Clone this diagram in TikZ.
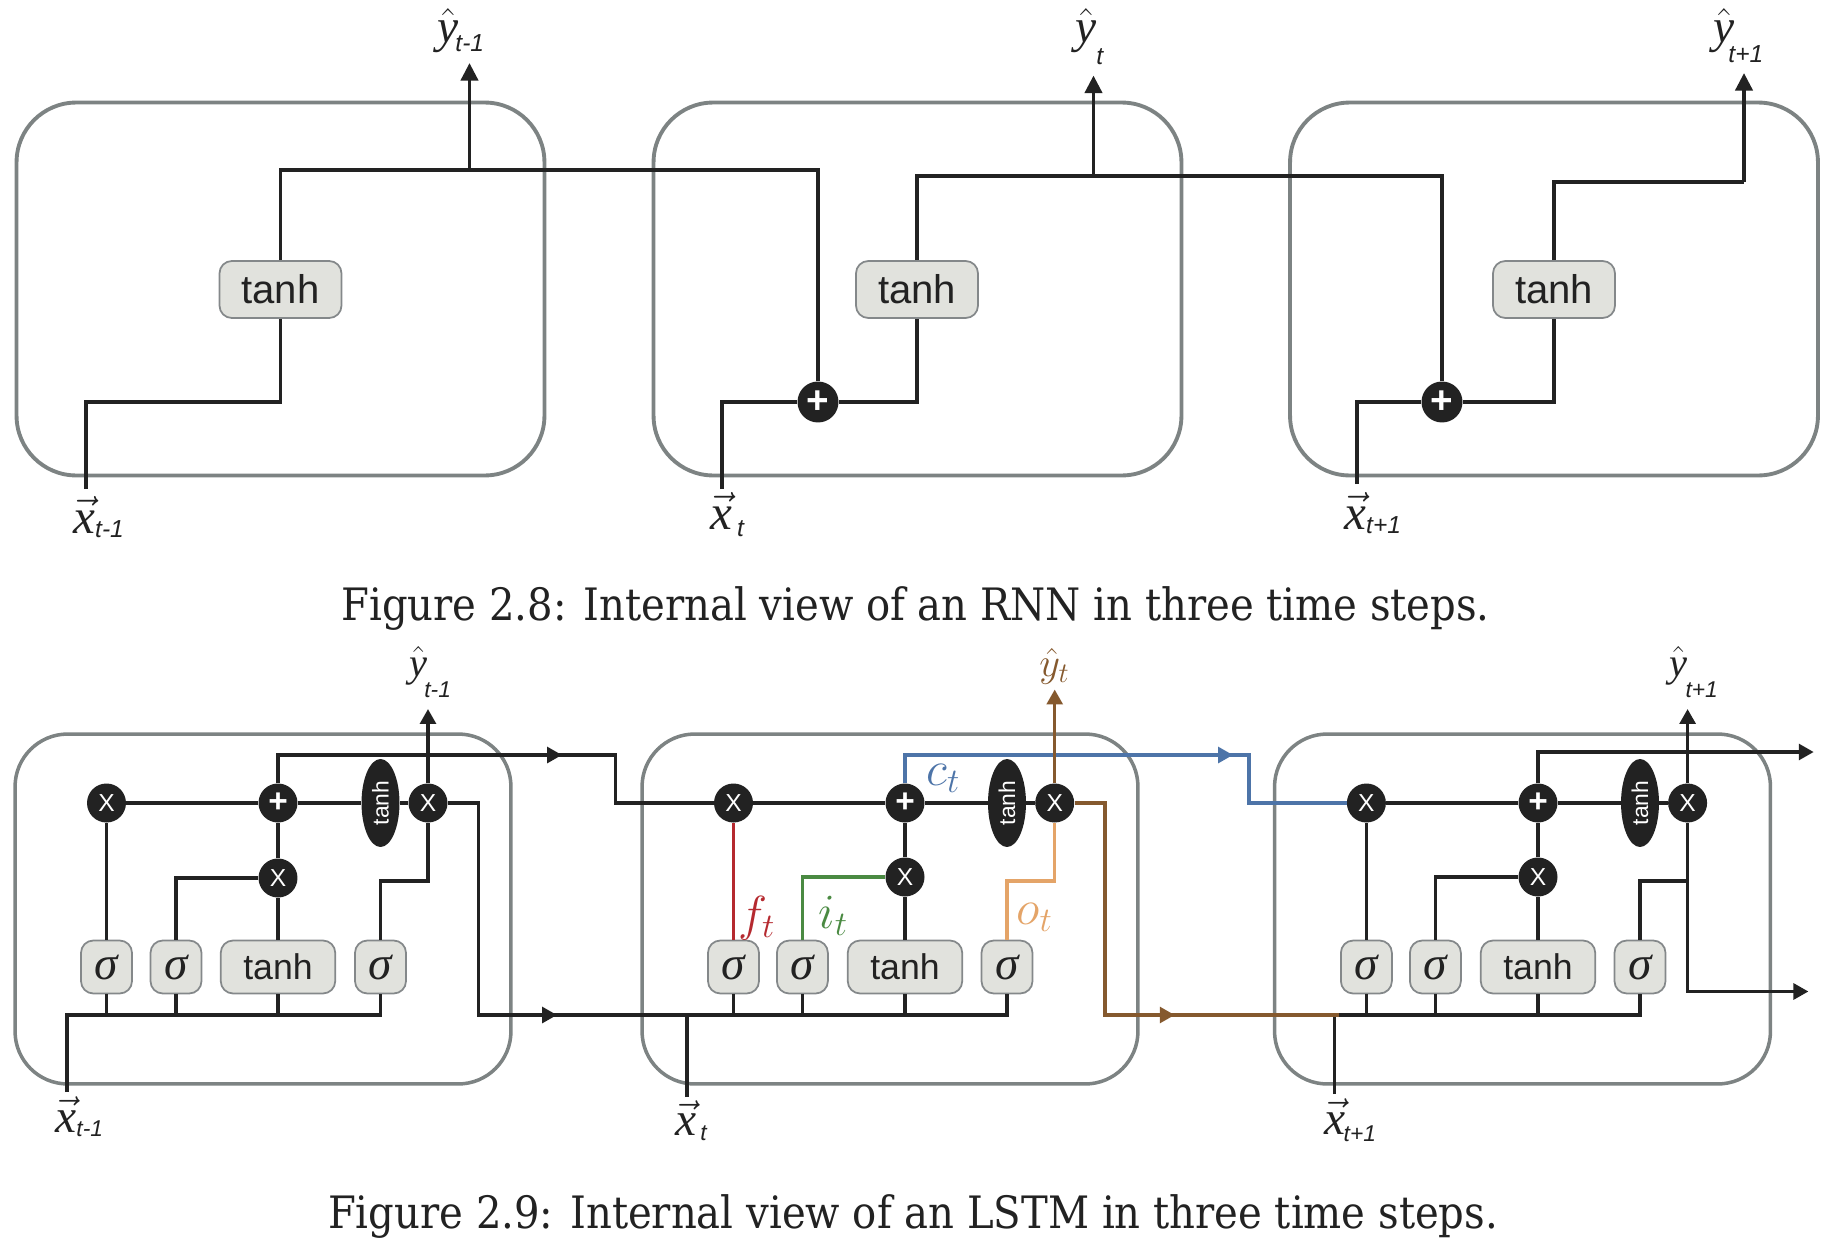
\documentclass[tikz,border=0pt]{standalone}
\usepackage{fix-cm}
\usepackage{fontspec}
\usetikzlibrary{arrows.meta,shapes.geometric}
\setmainfont{Liberation Sans}
\newfontfamily\capfont{DejaVu Serif Condensed}
\newfontfamily\tmsfont[NFSSFamily=tms]{Liberation Serif}
\DeclareMathAlphabet{\mathtms}{TU}{tms}{m}{it}
\definecolor{inkc}{HTML}{222222}
\definecolor{framec}{HTML}{7D8383}
\definecolor{gatec}{HTML}{E1E2DD}
\definecolor{gateb}{HTML}{84888A}
\definecolor{brownc}{HTML}{85592E}
\definecolor{bluec}{HTML}{4D74A8}
\definecolor{redc}{HTML}{B5292F}
\definecolor{greenc}{HTML}{4A8A42}
\definecolor{orangec}{HTML}{E4A468}
% #1 kern, #2 raise, #3 subscript
\newcommand{\ybig}[3]{{\fontsize{27}{30}\selectfont$\hat{\mathtms{y}}$}\kern#1\raisebox{#2}{\fontsize{14}{16}\selectfont\itshape #3}}
\newcommand{\xbig}[3]{{\fontsize{28}{30}\selectfont$\vec{\mathtms{x}}$}\kern#1\raisebox{#2}{\fontsize{14}{16}\selectfont\itshape #3}}
\newcommand{\ysmall}[3]{{\fontsize{23}{26}\selectfont$\hat{\mathtms{y}}$}\kern#1\raisebox{#2}{\fontsize{13}{15}\selectfont\itshape #3}}
\newcommand{\xsmall}[3]{{\fontsize{27}{28}\selectfont$\vec{\mathtms{x}}$}\kern#1\raisebox{#2}{\fontsize{13}{15}\selectfont\itshape #3}}
\newcommand{\sgm}{{\tmsfont\itshape σ}}
\tikzset{
  wire/.style={line width=2.2pt,draw=inkc},
  thin wire/.style={line width=1.95pt,draw=inkc},
  tipbig/.style={-{Triangle[length=10pt,width=9.7pt]}},
  tipsmall/.style={-{Triangle[length=8.5pt,width=9pt]}},
  rejoin/.style={shorten <=-6pt},
  cellbig/.style={draw=framec,line width=2.2pt,rounded corners=34pt,minimum width=10.56cm,minimum height=7.46cm,inner sep=0},
  cellsmall/.style={draw=framec,line width=2pt,rounded corners=30pt,minimum width=9.92cm,minimum height=7cm,inner sep=0},
  tanhbig/.style={draw=gateb,fill=gatec,line width=1pt,rounded corners=7pt,minimum width=2.44cm,minimum height=1.14cm,inner sep=0,text=inkc,font=\fontsize{22.8}{24}\selectfont},
  tanhsmall/.style={draw=gateb,fill=gatec,line width=1pt,rounded corners=7pt,minimum width=2.29cm,minimum height=1.06cm,inner sep=0,text=inkc,font=\fontsize{20.3}{22}\selectfont},
  sigbox/.style={draw=gateb,fill=gatec,line width=1pt,rounded corners=7pt,minimum width=1.02cm,minimum height=1.06cm,inner sep=0,text=inkc,font=\fontsize{27}{29}\selectfont},
  plusbig/.style={circle,fill=inkc,minimum size=.82cm,inner sep=0,text=white,font=\fontsize{22}{24}\selectfont\bfseries},
  plussmall/.style={circle,fill=inkc,minimum size=.78cm,inner sep=0,text=white,font=\fontsize{19}{21}\selectfont\bfseries},
  timesgate/.style={circle,fill=inkc,minimum size=.78cm,inner sep=0,text=white,font=\fontsize{14}{16}\selectfont},
  tanhoval/.style={ellipse,fill=inkc,rotate=90,minimum width=1.76cm,minimum height=.76cm,inner sep=0,text=white,font=\fontsize{13}{15}\selectfont},
  lbl/.style={anchor=base west,inner sep=0,text=inkc},
  caption/.style={anchor=base,inner sep=0,text=inkc,font=\capfont\fontsize{25.4}{28}\selectfont},
}
\begin{document}
\begin{tikzpicture}[x=0.02cm,y=-0.02cm]
      \useasboundingbox (0,0) rectangle (1826,1247);
      \node [cellbig] (r1) at (280.5,289) {};
      \node [cellbig] (r2) at (917.5,289) {};
      \node [cellbig] (r3) at (1554,289) {};
      \node [tanhbig] (k1) at (280.5,289.5) {tanh};
      \node [tanhbig] (k2) at (917,289.5) {tanh};
      \node [tanhbig] (k3) at (1554,289.5) {tanh};
      \node [plusbig] (p2) at (818,402) {+};
      \node [plusbig] (p3) at (1442,402) {+};
      \coordinate (i1) at (86,489);
      \coordinate (i2) at (722,489);
      \coordinate (i3) at (1357,484);
      \coordinate (c1) at (280.5,402);
      \coordinate (j1) at (469.5,170);
      \coordinate (j2) at (1093.5,176);
      \coordinate (j3) at (1744,182);
      \coordinate (o1) at (469.5,63);
      \coordinate (o2) at (1093.5,75.5);
      \coordinate (o3) at (1744,73);
      \draw [wire] (i1) |- (c1) -- (k1);
      \draw [wire] (k1) |- (j1) -| (p2);
      \draw [wire,tipbig] (j1) -- (o1);
      \draw [wire] (i2) |- (p2);
      \draw [wire] (p2) -| (k2);
      \draw [wire] (k2) |- (j2) -| (p3);
      \draw [wire,tipbig] (j2) -- (o2);
      \draw [wire] (i3) |- (p3);
      \draw [wire] (p3) -| (k3);
      \draw [wire] (k3) |- (j3);
      \draw [wire,tipbig] (j3) -- (o3);
      \node [lbl] (ly1) at (437,43) {\ybig{-1.7pt}{-5pt}{t-1}};
      \node [lbl] (ly2) at (1075,43) {\ybig{0pt}{-12pt}{t}};
      \node [lbl] (ly3) at (1713,43) {\ybig{-3.4pt}{-11pt}{t+1}};
      \node [lbl] (lx1) at (73,533) {\xbig{0pt}{-2.3pt}{t-1}};
      \node [lbl] (lx2) at (710,529) {\xbig{2.8pt}{-4.5pt}{t}};
      \node [lbl] (lx3) at (1344,529) {\xbig{0pt}{-2.3pt}{t+1}};
      \node [caption] (cap1) at (915.5,620) {Figure 2.8: Internal view of an RNN in three time steps.};
      \node [cellsmall] (ra) at (263,909) {};
      \node [cellsmall] (rb) at (890,909) {};
      \node [cellsmall] (rc) at (1522.5,909) {};
      \node [timesgate] (xa1) at (106.5,803) {X};
      \node [plussmall] (pa) at (278,803) {+};
      \node [timesgate] (xa2) at (278,878) {X};
      \node [tanhoval] (ea) at (380.5,803) {tanh};
      \node [timesgate] (xa3) at (428,803) {X};
      \node [sigbox] (sa1) at (106.5,967) {\sgm};
      \node [sigbox] (sa2) at (176,967) {\sgm};
      \node [tanhsmall] (ta) at (278,967) {tanh};
      \node [sigbox] (sa3) at (380.5,967) {\sgm};
      \node [timesgate] (xb1) at (733.5,803) {X};
      \node [plussmall] (pb) at (905,803) {+};
      \node [timesgate] (xb2) at (905,877) {X};
      \node [tanhoval] (eb) at (1007,803) {tanh};
      \node [timesgate] (xb3) at (1054.7,803) {X};
      \node [sigbox] (sb1) at (733.5,967) {\sgm};
      \node [sigbox] (sb2) at (802.4,967) {\sgm};
      \node [tanhsmall] (tb) at (905,967) {tanh};
      \node [sigbox] (sb3) at (1007,967) {\sgm};
      \node [timesgate] (xc1) at (1366.4,803) {X};
      \node [plussmall] (pc) at (1538,803) {+};
      \node [timesgate] (xc2) at (1538,877) {X};
      \node [tanhoval] (ec) at (1640,803) {tanh};
      \node [timesgate] (xc3) at (1687.6,803) {X};
      \node [sigbox] (sc1) at (1366.4,967) {\sgm};
      \node [sigbox] (sc2) at (1435.4,967) {\sgm};
      \node [tanhsmall] (tc) at (1538,967) {tanh};
      \node [sigbox] (sc3) at (1640,967) {\sgm};
      \coordinate (ia) at (67,1092);
      \coordinate (ib) at (687,1097);
      \coordinate (ic) at (1334.6,1094);
      \coordinate (ba) at (380.5,1015);
      \coordinate (bb) at (1007,1015);
      \coordinate (bc) at (1640,1015);
      \coordinate (ga) at (176,878);
      \coordinate (gb) at (802.4,877);
      \coordinate (gc) at (1435.4,877);
      \coordinate (ua) at (380.5,881);
      \coordinate (ub) at (1007,881);
      \coordinate (uc) at (1640,881);
      \coordinate (ya) at (428,709);
      \coordinate (yb) at (1054.7,689.5);
      \coordinate (yc) at (1687.6,709);
      \coordinate (ha) at (562,755);
      \coordinate (ja) at (615.5,803);
      \coordinate (hb) at (1233,755);
      \coordinate (jb) at (1249,803);
      \coordinate (hc) at (1813.7,752);
      \coordinate (da) at (478.4,1015);
      \coordinate (ma) at (557,1015);
      \coordinate (db) at (1105,1015);
      \coordinate (mb) at (1174.7,1015);
      \coordinate (fb) at (1339,1015);
      \coordinate (mc) at (1808.4,991.5);
      \draw [thin wire] (ia) |- (ba) -- (sa3);
      \draw [thin wire] (sa1) -- (sa1 |- ba);
      \draw [thin wire] (sa2) -- (sa2 |- ba);
      \draw [thin wire] (ta) -- (ta |- ba);
      \draw [thin wire] (sa1) -- (xa1);
      \draw [thin wire] (sa2) |- (ga) -- (xa2);
      \draw [thin wire] (ta) -- (xa2);
      \draw [thin wire] (xa2) -- (pa);
      \draw [thin wire] (xa1) -- (pa);
      \draw [thin wire] (pa) -- (ea);
      \draw [thin wire] (ea) -- (xa3);
      \draw [thin wire] (sa3) |- (ua) -| (xa3);
      \draw [thin wire,tipsmall] (xa3) -- (ya);
      \draw [thin wire,tipsmall] (pa) |- (ha);
      \draw [thin wire,rejoin] (ha) -| (ja) -- (xb1);
      \draw [thin wire,tipsmall] (xa3) -| (da) -- (ma);
      \draw [thin wire,rejoin] (ma) -- (bb) -- (sb3);
      \draw [thin wire] (ib) -- (ib |- bb);
      \draw [thin wire] (sb1) -- (sb1 |- bb);
      \draw [thin wire] (sb2) -- (sb2 |- bb);
      \draw [thin wire] (tb) -- (tb |- bb);
      \draw [thin wire] (xb1) -- (pb);
      \draw [thin wire] (pb) -- (eb);
      \draw [thin wire] (eb) -- (xb3);
      \draw [thin wire] (tb) -- (xb2);
      \draw [thin wire] (xb2) -- (pb);
      \draw [thin wire,draw=redc] (sb1) -- (xb1);
      \draw [thin wire,draw=greenc] (sb2) |- (gb) -- (xb2);
      \draw [thin wire,draw=orangec] (sb3) |- (ub) -| (xb3);
      \draw [thin wire,draw=bluec,tipsmall] (pb) |- (hb);
      \draw [thin wire,draw=bluec,rejoin] (hb) -| (jb) -- (xc1);
      \draw [thin wire] (ic) |- (bc) -- (sc3);
      \draw [thin wire] (sc1) -- (sc1 |- bc);
      \draw [thin wire] (sc2) -- (sc2 |- bc);
      \draw [thin wire] (tc) -- (tc |- bc);
      \draw [thin wire,draw=brownc,tipsmall] (xb3) -| (db) -- (mb);
      \draw [thin wire,draw=brownc,rejoin] (mb) -- (fb);
      \draw [thin wire,draw=brownc,tipsmall] (xb3) -- (yb);
      \draw [thin wire] (sc1) -- (xc1);
      \draw [thin wire] (sc2) |- (gc) -- (xc2);
      \draw [thin wire] (tc) -- (xc2);
      \draw [thin wire] (xc2) -- (pc);
      \draw [thin wire] (xc1) -- (pc);
      \draw [thin wire] (pc) -- (ec);
      \draw [thin wire] (ec) -- (xc3);
      \draw [thin wire] (sc3) |- (uc) -| (xc3);
      \draw [thin wire,tipsmall] (xc3) -- (yc);
      \draw [thin wire,tipsmall] (pc) |- (hc);
      \draw [thin wire,tipsmall] (xc3) |- (mc);
      \node [lbl] (lya) at (409,676) {\ysmall{-1.7pt}{-12.5pt}{t-1}};
      \node [lbl,text=brownc] (lyb) at (1039,676) {\fontsize{23}{26}\selectfont$\hat{y}_t$};
      \node [lbl] (lyc) at (1669,676) {\ysmall{-1pt}{-12.5pt}{t+1}};
      \node [lbl] (lxa) at (55,1132) {\xsmall{0pt}{-2.8pt}{t-1}};
      \node [lbl] (lxb) at (675,1135.5) {\xsmall{2.3pt}{-3pt}{t}};
      \node [lbl] (lxc) at (1324,1134) {\xsmall{-1pt}{-4pt}{t+1}};
      \node [lbl,text=bluec] (lc) at (926,785) {\fontsize{28}{30}\selectfont$c_t$};
      \node [lbl,text=redc] (lf) at (738,930) {\fontsize{28}{30}\selectfont$f_t$};
      \node [lbl,text=greenc] (li) at (818,928) {\fontsize{28}{30}\selectfont$i_t$};
      \node [lbl,text=orangec] (lo) at (1016,924) {\fontsize{28}{30}\selectfont$o_t$};
      \node [caption] (cap2) at (913,1228) {Figure 2.9: Internal view of an LSTM in three time steps.};
    \end{tikzpicture}
\end{document}
